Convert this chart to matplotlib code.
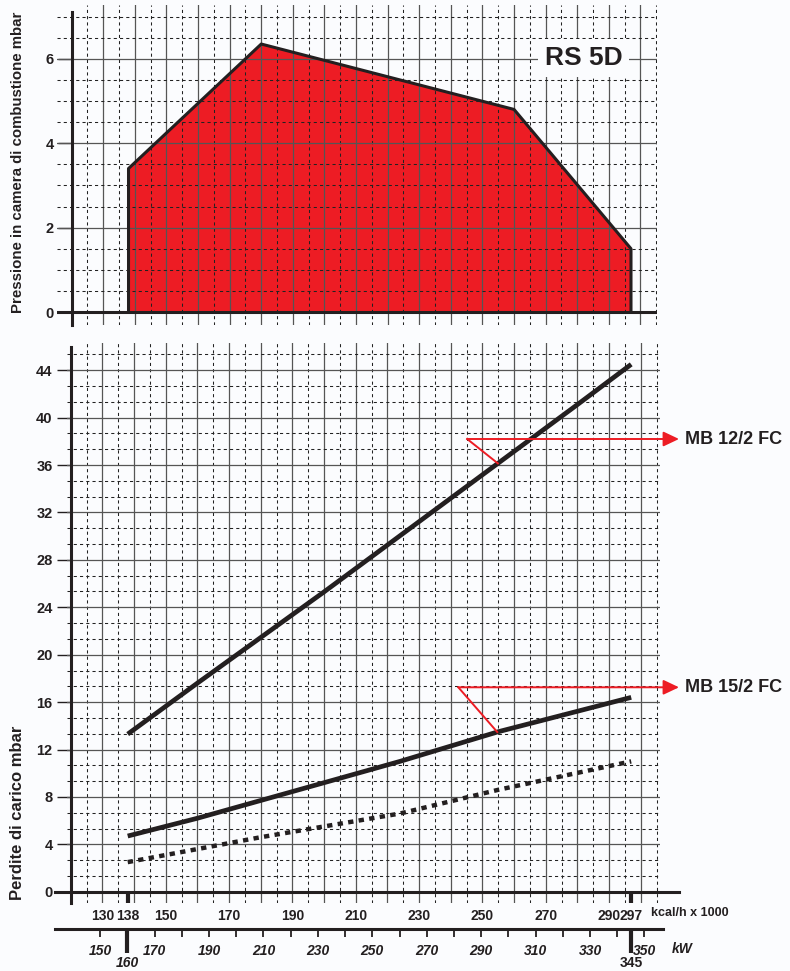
import numpy as np
import matplotlib
matplotlib.use("Agg")
import matplotlib.pyplot as plt

plt.rcParams['font.family'] = ['Liberation Sans', 'DejaVu Sans']
plt.rcParams['font.weight'] = 'bold'

# --------------------------------- Data -------------------------------- #
# working field of the burner (kcal/h x 1000 -> mbar)
field_kcal = [138, 138, 180, 260, 297, 297]
field_mbar = [0, 3.4, 6.35, 4.8, 1.5, 0]

# gas train pressure drop curves
mb12_kcal = [138, 160, 200, 240, 280, 297]
mb12_mbar = [13.3, 17.6, 25.3, 33.2, 41.1, 44.5]
mb15_kcal = [138, 160, 180, 224, 255, 297]
mb15_mbar = [4.7, 6.2, 7.7, 11.0, 13.5, 16.4]
dot_kcal = [138, 180, 224, 255, 297]
dot_mbar = [2.5, 4.6, 6.6, 8.6, 11.0]

kcal_labels = [130, 138, 150, 170, 190, 210, 230, 250, 270, 290, 297]
kcal_marks = [138, 297]
kw_ticks = list(range(150, 351, 10))
kw_labels = list(range(150, 351, 20))
kw_marks = [160, 345]
KW_PER_KCAL = 1.163

RED = '#ed1c24'
INK = '#231f20'
BG = '#fbfcfe'
W, H = 790, 971

fig = plt.figure(figsize=(W / 100, H / 100), dpi=100, facecolor=BG)


def px_axes(l, t, r, b):
    return fig.add_axes([l / W, 1 - b / H, (r - l) / W, (b - t) / H])


def draw_grid(ax, xs_solid, xs_dash, ys_solid, ys_dash):
    for x in xs_solid:
        ax.axvline(x, color='#555555', lw=0.9, zorder=2)
    for x in xs_dash:
        ax.axvline(x, color='#222222', lw=0.75, ls=(0, (3, 3)), zorder=2)
    for y in ys_solid:
        ax.axhline(y, color='#555555', lw=0.9, zorder=2)
    for y in ys_dash:
        ax.axhline(y, color='#222222', lw=0.75, ls=(0, (3, 3)), zorder=2)


def style_axes(ax, ybounds):
    ax.set_facecolor('none')
    for s in ['top', 'right', 'bottom']:
        ax.spines[s].set_visible(False)
    ax.spines['left'].set_position(('data', 120))
    ax.spines['left'].set_linewidth(2.2)
    ax.spines['left'].set_color(INK)
    ax.spines['left'].set_bounds(*ybounds)
    ax.tick_params(axis='y', length=10, width=1.0, pad=3, labelsize=10.5, colors=INK)


# ------------------------------ Top chart ------------------------------ #
ax1 = px_axes(57.1, 5.2, 656.9, 325.1)
ax1.set_xlim(115.4, 305.2)
ax1.set_ylim(-0.31, 7.27)
style_axes(ax1, (-0.31, 7.1))
ax1.set_xticks([])
ax1.set_yticks([0, 2, 4, 6])
ax1.fill(field_kcal, field_mbar, facecolor=RED, edgecolor='none', zorder=1)
draw_grid(ax1, np.arange(130, 306, 10), np.arange(125, 306, 10),
          [2, 4, 6], [v for v in np.arange(0.5, 7.01, 0.5) if v % 2 != 0])
ax1.plot(field_kcal, field_mbar, color=INK, lw=2.2, zorder=3)
ax1.axhline(0, color=INK, lw=2.2, zorder=3)
ax1.text(282, 6.02, 'RS 5D', fontsize=19, ha='center', va='center', color=INK,
         bbox=dict(boxstyle='square,pad=0.25', fc=BG, ec='none'), zorder=4)
fig.text(18 / W, 1 - 162 / H, 'Pressione in camera di combustione mbar',
         rotation=90, ha='center', va='center', fontsize=10.8, color=INK)

# ----------------------------- Bottom chart ---------------------------- #
ax2 = px_axes(66.9, 343.0, 659.7, 903.0)
ax2.set_xlim(118.8, 306)
ax2.set_ylim(-0.95, 46.3)
style_axes(ax2, (-0.95, 46.0))
ax2.set_yticks(range(0, 45, 4))
ax2.set_xticks(kcal_labels)
ax2.set_xticklabels([str(v) for v in kcal_labels])
ax2.set_xticks(kcal_marks, minor=True)
ax2.xaxis.remove_overlapping_locs = False
ax2.tick_params(axis='x', which='major', length=0, pad=4, labelsize=10, colors=INK)
ax2.tick_params(axis='x', which='minor', direction='in', length=8, width=3, color=INK)
dash_y = [k * 4 / 3 for k in range(1, 35) if k % 3 != 0]
draw_grid(ax2, np.arange(130, 306, 10), np.arange(125, 306, 10), range(4, 45, 4), dash_y)
ax2.plot(mb12_kcal, mb12_mbar, color=INK, lw=3.4, solid_capstyle='butt', zorder=3)
ax2.plot(mb15_kcal, mb15_mbar, color=INK, lw=3.4, solid_capstyle='butt', zorder=3)
ax2.plot(dot_kcal, dot_mbar, color=INK, lw=3.2, ls=(0, (1.2, 1.2)), zorder=3)
ax2.axhline(0, xmin=-0.02, xmax=1.033, color=INK, lw=2.2, clip_on=False, zorder=3)

# leader arrows to the gas train names
for name, kx, ky, tx, xs, ys in [('MB 12/2 FC', 245.2, 38.2, 254.9, mb12_kcal, mb12_mbar),
                                 ('MB 15/2 FC', 242.4, 17.25, 254.7, mb15_kcal, mb15_mbar)]:
    ax2.plot([kx, tx], [ky, np.interp(tx, xs, ys)], color=RED, lw=1.4, zorder=4)
    ax2.annotate('', xy=(312.1, ky), xytext=(kx, ky), annotation_clip=False, zorder=4,
                 arrowprops=dict(arrowstyle='-|>,head_length=0.95,head_width=0.45',
                                 mutation_scale=10, color=RED, lw=1.4,
                                 shrinkA=0, shrinkB=0))
    ax2.text(314.0, ky, name, ha='left', va='center', fontsize=13, color=INK, clip_on=False)

fig.text(651 / W, 1 - 913 / H, 'kcal/h x 1000', ha='left', va='center',
         fontsize=9, color=INK)
fig.text(18 / W, 1 - 813 / H, 'Perdite di carico mbar', rotation=90,
         ha='center', va='center', fontsize=12, color=INK)

# ------------------------------- kW scale ------------------------------ #
ax3 = px_axes(55.2, 928, 662.7, 929)
ax3.set_facecolor('none')
ax3.set_xlim(114.8 * KW_PER_KCAL, 306.7 * KW_PER_KCAL)
for s in ['top', 'right', 'left']:
    ax3.spines[s].set_visible(False)
ax3.spines['bottom'].set_linewidth(2.2)
ax3.spines['bottom'].set_color(INK)
ax3.set_yticks([])
ax3.set_xticks(kw_ticks)
ax3.set_xticklabels([str(v) if v in kw_labels else '' for v in kw_ticks],
                    fontstyle='italic')
ax3.set_xticks(kw_marks, minor=True)
ax3.set_xticklabels([str(v) for v in kw_marks], minor=True, fontstyle='italic')
ax3.xaxis.remove_overlapping_locs = False
ax3.tick_params(axis='x', which='major', length=6, width=1.3, pad=5, labelsize=10, colors=INK)
ax3.tick_params(axis='x', which='minor', length=17, width=3, pad=2.5, labelsize=10, colors=INK)
fig.text(672 / W, 1 - 949 / H, 'kW', ha='left', va='center', fontsize=10,
         fontstyle='italic', color=INK)

fig.savefig('out.png', dpi=100, facecolor=BG)
